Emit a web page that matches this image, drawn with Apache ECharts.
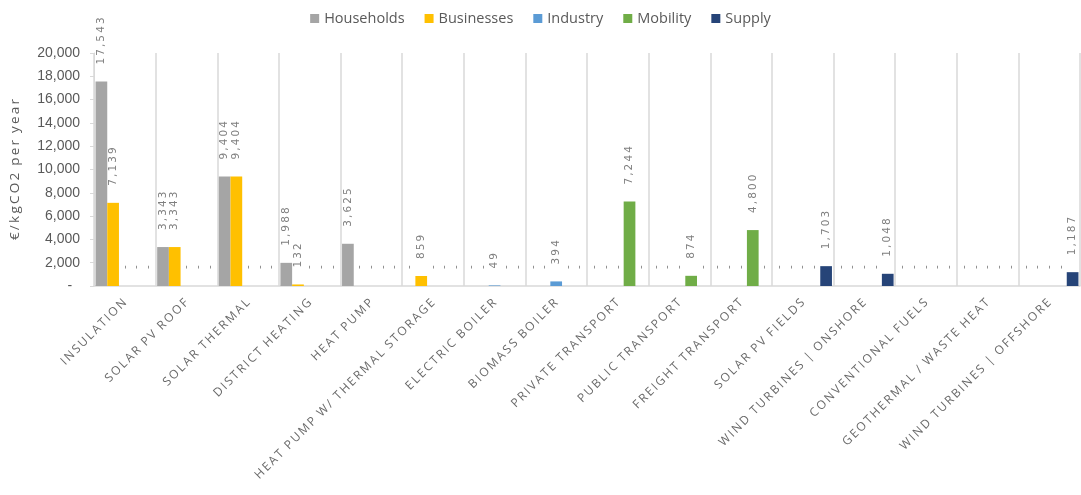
<!DOCTYPE html>
<html>
<head>
<meta charset="utf-8">
<script src="https://cdn.jsdelivr.net/npm/echarts@6/dist/echarts.min.js"></script>
<style>
  html, body { margin: 0; padding: 0; background: #fff; }
  #chart { width: 1081px; height: 495px; }
</style>
</head>
<body>
<div id="chart"></div>
<script>
// Technologies on the category axis
const categories = [
  'INSULATION', 'SOLAR PV ROOF', 'SOLAR THERMAL', 'DISTRICT HEATING', 'HEAT PUMP',
  'HEAT PUMP W/ THERMAL STORAGE', 'ELECTRIC BOILER', 'BIOMASS BOILER',
  'PRIVATE TRANSPORT', 'PUBLIC TRANSPORT', 'FREIGHT TRANSPORT', 'SOLAR PV FIELDS',
  'WIND TURBINES | ONSHORE', 'CONVENTIONAL FUELS', 'GEOTHERMAL / WASTE HEAT',
  'WIND TURBINES | OFFSHORE'
];

// €/kgCO2 per year, one value per technology
const households = [17543, 3343, 9404, 1988, 3625, 0, 0, 0, 0, 0, 0, 0, 0, 0, 0, 0];
const businesses = [7139, 3343, 9404, 132, 0, 859, 0, 0, 0, 0, 0, 0, 0, 0, 0, 0];
const industry   = [0, 0, 0, 0, 0, 0, 49, 394, 0, 0, 0, 0, 0, 0, 0, 0];
const mobility   = [0, 0, 0, 0, 0, 0, 0, 0, 7244, 874, 4800, 0, 0, 0, 0, 0];
const supply     = [0, 0, 0, 0, 0, 0, 0, 0, 0, 0, 0, 1703, 1048, 0, 0, 1187];

const yTicks = { min: 0, max: 20000, step: 2000 };

const seriesNames = ['Households', 'Businesses', 'Industry', 'Mobility', 'Supply'];
const seriesData = [households, businesses, industry, mobility, supply];
const colors = ['#A5A5A5', '#FFC000', '#5B9BD5', '#70AD47', '#264478'];

// spread letters apart with thin spaces
function spread(s) {
  return s.split(' ').map(w => w.split('').join('\u2009')).join('  ');
}
function fmt(v) {
  return v.toLocaleString('en-US');
}

const chart = echarts.init(document.getElementById('chart'), null, { renderer: 'canvas' });

const option = {
  animation: false,
  color: colors,
  legend: {
    top: 6,
    left: 'center',
    icon: 'rect',
    itemWidth: 9,
    itemHeight: 9,
    itemGap: 20,
    textStyle: { color: '#595959', fontSize: 14.5, fontFamily: 'Open Sans' },
    data: seriesNames
  },
  grid: { left: 93, right: 1, top: 53, bottom: 209 },
  xAxis: {
    type: 'category',
    data: categories,
    boundaryGap: true,
    axisLine: { lineStyle: { color: '#d9d9d9', width: 1.5 } },
    axisTick: { show: false },
    splitLine: { show: true, lineStyle: { color: '#d9d9d9', width: 1.5 } },
    axisLabel: {
      interval: 0,
      rotate: 45,
      margin: 15,
      color: '#6a6a6a',
      fontSize: 12,
      fontFamily: 'Open Sans',
      formatter: v => spread(v)
    }
  },
  yAxis: {
    type: 'value',
    min: yTicks.min,
    max: yTicks.max,
    interval: yTicks.step,
    name: spread('€/kgCO2 per year'),
    nameLocation: 'middle',
    nameGap: 72,
    nameTextStyle: { color: '#595959', fontSize: 13.5, fontFamily: 'Open Sans' },
    axisLine: { show: true, lineStyle: { color: '#d9d9d9' } },
    axisTick: { show: true, length: 4, lineStyle: { color: '#d9d9d9' } },
    splitLine: { show: false },
    axisLabel: {
      color: '#595959',
      fontSize: 14,
      fontFamily: 'Liberation Sans',
      margin: 14,
      formatter: v => (v === 0 ? '-  ' : fmt(v))
    }
  },
  series: seriesNames.map((name, i) => ({
    name: name,
    type: 'bar',
    data: seriesData[i],
    barGap: '0%',
    barCategoryGap: '5%',
    label: {
      show: true,
      position: 'top',
      rotate: 90,
      align: 'left',
      verticalAlign: 'middle',
      distance: 17,
      color: '#7f7f7f',
      fontSize: 10.5,
      fontFamily: 'DejaVu Sans',
      formatter: p => (p.value === 0 ? '-' : fmt(p.value).split('').join('\u2009'))
    }
  }))
};

chart.setOption(option);
</script>
</body>
</html>
